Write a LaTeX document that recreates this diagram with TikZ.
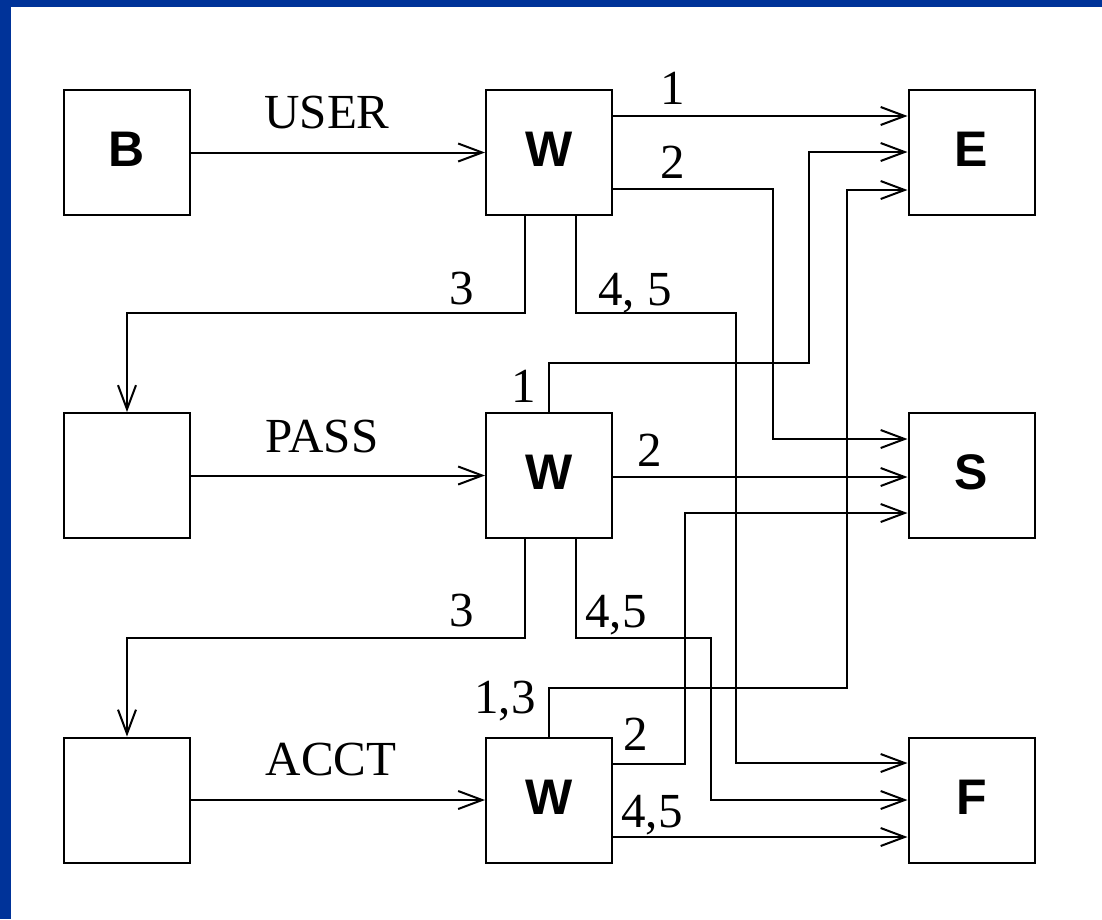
\documentclass[tikz,border=0pt]{standalone}
\usepackage{fontspec}
\setmainfont{Liberation Serif}
\newfontfamily\boxfont{Liberation Sans}
\usetikzlibrary{arrows.meta}
\definecolor{bluebar}{RGB}{0,51,153}
\begin{document}
\begin{tikzpicture}[x=1pt,y=-1pt,line width=2pt,
  >={Straight Barb[length=24pt,width=18pt]},
  boxnode/.style={draw,line width=2pt,minimum width=126pt,minimum height=125pt,inner sep=0pt,
    font=\boxfont\bfseries\fontsize{50}{55}\selectfont},
  lbl/.style={inner sep=0pt,anchor=base,font=\fontsize{49}{55}\selectfont},
  conn/.style={->,line width=2pt}]
\useasboundingbox (0,0) rectangle (1102,919);
\fill[bluebar] (0,0) rectangle (11,919);
\fill[bluebar] (0,0) rectangle (1102,7);
% boxes
\node[boxnode] (b)  at (126.5,152.5) {\raisebox{6pt}{B}};
\node[boxnode] (w1) at (549,152.5) {\raisebox{6pt}{W}};
\node[boxnode] (e)  at (971.5,152.5) {\raisebox{6pt}{E}};
\node[boxnode] (l2) at (126.5,475.5) {};
\node[boxnode] (w2) at (549,475.5) {\raisebox{6pt}{W}};
\node[boxnode] (s)  at (971.5,475.5) {\raisebox{6pt}{S}};
\node[boxnode] (l3) at (126.5,800) {};
\node[boxnode] (w3) at (549,800) {\raisebox{6pt}{W}};
\node[boxnode] (f)  at (971.5,800) {\raisebox{6pt}{F}};
% labels
\node[lbl] (tuser) at (327,128) {USER};
\node[lbl] (tpass) at (322,452) {PASS};
\node[lbl] (tacct) at (331,775) {ACCT};
\node[lbl] (t1a) at (673,104) {1};
\node[lbl] (t2a) at (673,178) {2};
\node[lbl] (t3a) at (462,304) {3};
\node[lbl] (t45a) at (635,305) {4, 5};
\node[lbl] (t1b) at (524,402) {1};
\node[lbl] (t2b) at (650,466) {2};
\node[lbl] (t3b) at (462,626) {3};
\node[lbl] (t45b) at (616,627) {4,5};
\node[lbl] (t13) at (505,713) {1,3};
\node[lbl] (t2c) at (636,750) {2};
\node[lbl] (t45c) at (652,827) {4,5};
% connectors row 1
\draw[conn] (b.east) -- (w1.west);
\draw[conn] (w1.east |- 0,116) -- (e.west |- 0,116);
\draw[conn] (w1.east |- 0,189) -- (773,189) -- (773,439) -- (s.west |- 0,439);
\draw[conn] (w1.south -| 525,0) -- (525,313) -- (127,313) -- (l2.north -| 127,0);
\draw[conn] (w1.south -| 576,0) -- (576,313) -- (736,313) -- (736,763) -- (f.west |- 0,763);
% row 2
\draw[conn] (l2.east) -- (w2.west);
\draw[conn] (w2.east |- 0,477) -- (s.west |- 0,477);
\draw[conn] (w2.north -| 549,0) -- (549,363) -- (809,363) -- (809,152) -- (e.west |- 0,152);
\draw[conn] (w2.south -| 525,0) -- (525,638) -- (127,638) -- (l3.north -| 127,0);
\draw[conn] (w2.south -| 576,0) -- (576,638) -- (711,638) -- (711,800) -- (f.west |- 0,800);
% row 3
\draw[conn] (l3.east) -- (w3.west);
\draw[conn] (w3.north -| 549,0) -- (549,688) -- (847,688) -- (847,190) -- (e.west |- 0,190);
\draw[conn] (w3.east |- 0,764) -- (685,764) -- (685,513) -- (s.west |- 0,513);
\draw[conn] (w3.east |- 0,837) -- (f.west |- 0,837);
\end{tikzpicture}
\end{document}
